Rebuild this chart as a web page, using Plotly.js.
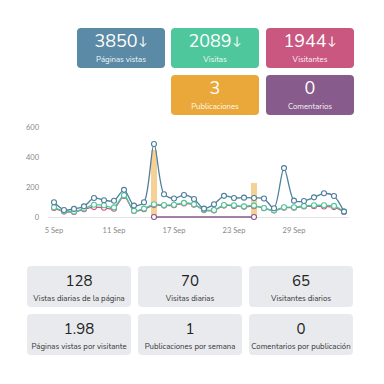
<!DOCTYPE html>
<html><head><meta charset="utf-8">
<script src="https://cdn.plot.ly/plotly-3.0.1.min.js"></script>
<style>
html,body{margin:0;padding:0;background:#fff;width:384px;height:384px;overflow:hidden;font-family:"Nunito","Lato","Open Sans",sans-serif;}
#chart{position:absolute;left:0;top:0;width:384px;height:384px;}
.card{position:absolute;border-radius:4px;text-align:center;box-sizing:border-box;}
.top{color:#fff;width:88px;height:40px;}
.top .n{position:absolute;left:0;right:0;top:4px;font-size:18px;line-height:18px;height:18px;font-weight:400;}
.top .n small{font-size:12px;margin-left:1px;position:relative;top:-2px;}
.top .l{position:absolute;left:0;right:0;top:27px;font-size:7.8px;line-height:9px;height:9px;opacity:0.95;}
.bot{background:#e8eaee;color:#222;width:104px;height:41px;}
.bot .n{position:absolute;left:0;right:0;top:7px;font-size:15px;line-height:16px;height:16px;}
.bot .l{position:absolute;left:0;right:0;top:28px;font-size:7.8px;line-height:9px;height:9px;color:#333;}
</style></head>
<body>
<div id="chart"></div>
<div id="cards"></div>
<script>
// ---- data ----
const dates = ["2023-09-05","2023-09-06","2023-09-07","2023-09-08","2023-09-09","2023-09-10","2023-09-11","2023-09-12","2023-09-13","2023-09-14",
"2023-09-15","2023-09-16","2023-09-17","2023-09-18","2023-09-19","2023-09-20","2023-09-21","2023-09-22","2023-09-23","2023-09-24",
"2023-09-25","2023-09-26","2023-09-27","2023-09-28","2023-09-29","2023-09-30","2023-10-01","2023-10-02","2023-10-03","2023-10-04"];
const paginasVistas = [98,47,54,71,127,112,108,181,76,98,487,152,123,147,120,56,85,141,127,129,127,123,58,326,109,107,131,158,140,36];
const visitas = [65,40,36,56,82,78,64,145,42,56,85,80,82,94,85,49,47,80,78,71,76,60,45,65,65,74,78,78,74,36];
const visitantes = [60,36,34,52,66,62,55,140,40,52,80,76,78,90,82,46,44,76,74,68,72,58,43,62,62,70,72,70,66,34];
const pubDates = ["2023-09-15","2023-09-25"];
const publicaciones = [2,1];
const comDates = ["2023-09-15","2023-09-25"];
const comentarios = [0,0];

const topCards = [
  {value:"3850", arrow:true, label:"Páginas vistas", color:"#5a8aa6"},
  {value:"2089", arrow:true, label:"Visitas", color:"#4fc79c"},
  {value:"1944", arrow:true, label:"Visitantes", color:"#c9577f"},
  {value:"3", arrow:false, label:"Publicaciones", color:"#eaa83a"},
  {value:"0", arrow:false, label:"Comentarios", color:"#875b8b"}
];
const bottomCards = [
  {value:"128", label:"Vistas diarias de la página"},
  {value:"70", label:"Visitas diarias"},
  {value:"65", label:"Visitantes diarios"},
  {value:"1.98", label:"Páginas vistas por visitante"},
  {value:"1", label:"Publicaciones por semana"},
  {value:"0", label:"Comentarios por publicación"}
];

// ---- cards ----
const topPos = [[77,28],[171,28],[266,28],[171,75],[266,75]];
const botPos = [[27,266],[138,266],[249,266],[27,314],[138,314],[249,314]];
const cont = document.getElementById('cards');
topCards.forEach((c,i)=>{
  const d=document.createElement('div');
  d.className='card top';
  d.style.left=topPos[i][0]+'px'; d.style.top=topPos[i][1]+'px'; d.style.background=c.color;
  d.innerHTML='<div class="n">'+c.value+(c.arrow?'<small>↓</small>':'')+'</div><div class="l">'+c.label+'</div>';
  cont.appendChild(d);
});
bottomCards.forEach((c,i)=>{
  const d=document.createElement('div');
  d.className='card bot';
  d.style.left=botPos[i][0]+'px'; d.style.top=botPos[i][1]+'px';
  d.innerHTML='<div class="n">'+c.value+'</div><div class="l">'+c.label+'</div>';
  cont.appendChild(d);
});

// ---- chart ----
function lineTrace(y, color, name){
  return {x:dates, y:y, type:'scatter', mode:'lines+markers', name:name, yaxis:'y2',
    line:{color:color, width:1.3, shape:'spline', smoothing:0.8},
    marker:{size:5, color:'#fff', line:{color:color, width:1.1}}, cliponaxis:false};
}
const traces = [
  {x:pubDates, y:publicaciones, type:'bar', name:'Publicaciones', yaxis:'y', width:46000000,
   marker:{color:'rgba(242,190,105,0.7)'}},
  {x:comDates, y:comentarios, type:'scatter', mode:'lines+markers', name:'Comentarios', yaxis:'y2',
   line:{color:'#87598a', width:1.3}, marker:{size:5,color:'#fff',line:{color:'#87598a',width:1.1}}, cliponaxis:false},
  lineTrace(visitantes, '#c9577f', 'Visitantes'),
  lineTrace(visitas, '#4fc79c', 'Visitas'),
  lineTrace(paginasVistas, '#4f7f9b', 'Páginas vistas')
];
const layout = {
  width:384, height:384, showlegend:false,
  paper_bgcolor:'rgba(0,0,0,0)', plot_bgcolor:'rgba(0,0,0,0)',
  margin:{l:48, r:35, t:118, b:164},
  font:{family:'Lato, "Open Sans", sans-serif', size:7.5, color:'#888'},
  xaxis:{type:'date', range:['2023-09-04 09:36','2023-10-04 12:00'], tick0:'2023-09-05', dtick:518400000,
    tickformat:'%-d %b', showgrid:false, zeroline:false, showline:false, ticks:'', ticklabelstandoff:4,
    tickfont:{size:7.5,color:'#888'}},
  yaxis:{range:[-20/225, 660/225], showgrid:false, zeroline:false, showticklabels:false, ticks:''},
  yaxis2:{overlaying:'y', side:'left', range:[-20,660], tickvals:[0,200,400,600], showgrid:false,
    zeroline:true, zerolinecolor:'#e2e2ea', zerolinewidth:1, ticks:'', ticklabelstandoff:8,
    tickfont:{size:7.5,color:'#888'}},
  bargap:0
};
Plotly.newPlot('chart', traces, layout, {staticPlot:true, displayModeBar:false});
</script>
</body></html>
